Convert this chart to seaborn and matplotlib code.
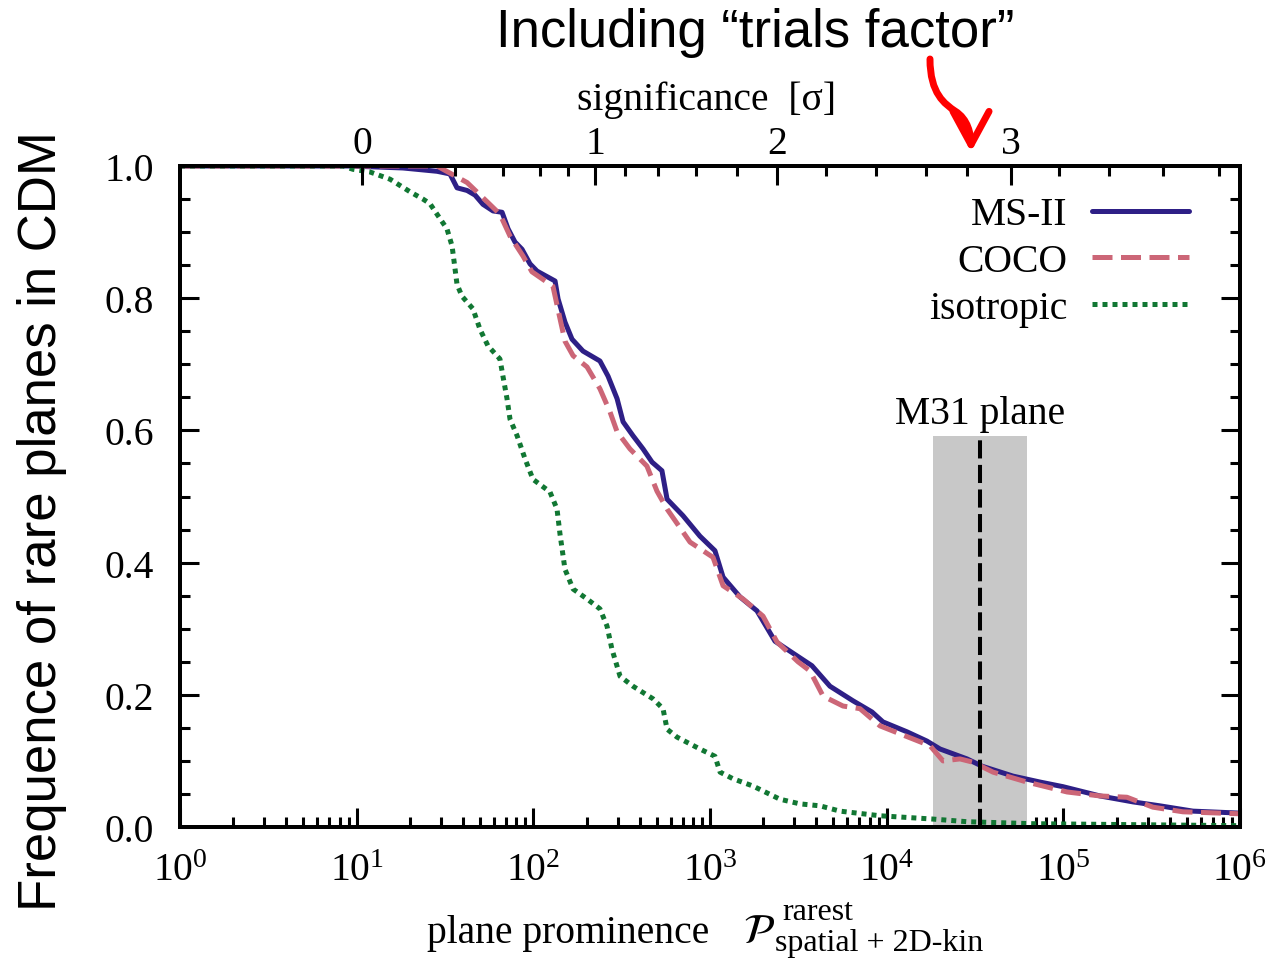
import numpy as np
import pandas as pd
import matplotlib
matplotlib.use("Agg")
import matplotlib.pyplot as plt
import seaborn as sns
from matplotlib.ticker import LogLocator, NullFormatter, FixedLocator, MultipleLocator
from matplotlib.patches import FancyArrowPatch
from matplotlib.path import Path

# ---------------- data ----------------
# x values given as log10 of plane prominence
ms2_log = [0.000, 0.962, 1.262, 1.455, 1.528, 1.568, 1.625, 1.670, 1.715, 1.772, 1.823,
           1.857, 1.896, 1.936, 1.981, 2.021, 2.123, 2.140, 2.179, 2.219, 2.281, 2.377,
           2.423, 2.474, 2.508, 2.564, 2.621, 2.672, 2.728, 2.757, 2.847, 2.943, 3.028,
           3.074, 3.170, 3.266, 3.368, 3.492, 3.577, 3.679, 3.809, 3.917, 3.979, 4.115,
           4.228, 4.302, 4.455, 4.540, 4.715, 4.868, 4.998, 5.207, 5.394, 5.547, 5.734, 6.000]
ms2_frac = [1.000, 1.000, 0.997, 0.992, 0.988, 0.967, 0.963, 0.956, 0.942, 0.932, 0.930,
            0.905, 0.885, 0.874, 0.852, 0.841, 0.826, 0.799, 0.764, 0.738, 0.720, 0.705,
            0.682, 0.648, 0.613, 0.592, 0.572, 0.552, 0.539, 0.496, 0.471, 0.440, 0.418,
            0.378, 0.348, 0.327, 0.281, 0.259, 0.244, 0.213, 0.191, 0.174, 0.159, 0.144,
            0.130, 0.118, 0.103, 0.092, 0.077, 0.068, 0.061, 0.047, 0.038, 0.032, 0.024, 0.021]

coco_log = [0.000, 1.455, 1.557, 1.625, 1.738, 1.811, 1.868, 1.941, 1.992, 2.111, 2.151,
            2.179, 2.225, 2.304, 2.377, 2.434, 2.474, 2.547, 2.643, 2.700, 2.757, 2.887,
            3.017, 3.074, 3.187, 3.300, 3.379, 3.498, 3.566, 3.640, 3.753, 3.849, 3.962,
            4.075, 4.245, 4.319, 4.415, 4.489, 4.602, 4.794, 5.021, 5.207, 5.360, 5.507,
            5.677, 6.000]
coco_frac = [1.000, 1.000, 0.985, 0.975, 0.946, 0.927, 0.894, 0.864, 0.840, 0.818, 0.769,
             0.735, 0.713, 0.696, 0.663, 0.628, 0.598, 0.572, 0.546, 0.508, 0.481, 0.431,
             0.408, 0.365, 0.345, 0.319, 0.280, 0.250, 0.236, 0.198, 0.183, 0.179, 0.153,
             0.141, 0.123, 0.100, 0.103, 0.098, 0.083, 0.068, 0.053, 0.047, 0.045, 0.030,
             0.023, 0.020]

iso_log = [0.000, 0.923, 0.979, 1.075, 1.189, 1.302, 1.375, 1.415, 1.455, 1.511, 1.540,
           1.557, 1.568, 1.596, 1.658, 1.698, 1.743, 1.811, 1.828, 1.851, 1.868, 1.908,
           1.953, 1.998, 2.094, 2.134, 2.151, 2.179, 2.225, 2.304, 2.377, 2.417, 2.445,
           2.491, 2.564, 2.677, 2.734, 2.757, 2.813, 2.943, 3.028, 3.057, 3.130, 3.243,
           3.396, 3.509, 3.623, 3.736, 3.962, 4.262, 4.455, 4.828, 6.000]
iso_frac = [1.000, 1.000, 0.995, 0.991, 0.980, 0.961, 0.950, 0.943, 0.927, 0.905, 0.879,
            0.844, 0.821, 0.803, 0.784, 0.753, 0.728, 0.708, 0.682, 0.648, 0.617, 0.592,
            0.557, 0.526, 0.507, 0.481, 0.443, 0.390, 0.360, 0.345, 0.330, 0.304, 0.269,
            0.228, 0.213, 0.194, 0.179, 0.148, 0.136, 0.118, 0.107, 0.083, 0.073, 0.062,
            0.042, 0.035, 0.032, 0.024, 0.017, 0.012, 0.008, 0.005, 0.002]

series_names = ["MS-II", "COCO", "isotropic"]
series_colors = ["#2e1f86", "#cc6677", "#117733"]

# M31 plane: value and band (log10 prominence), band height (fraction)
m31_log = 4.528
m31_band_log = [4.262, 4.794]
m31_band_top = 0.592

# top axis: significance ticks and their log10 prominence positions
sigma_major = [0, 1, 2, 3]
sigma_major_log = [1.030, 2.349, 3.379, 4.704]
sigma_minor_log = [1.557, 1.828, 2.038, 2.196, 2.519, 2.706, 2.921, 3.153,
                   3.657, 3.940, 4.223, 4.455, 4.975, 5.258, 5.564, 5.881]

# ---------------- styling ----------------
sns.set_style("ticks")
plt.rcParams["font.family"] = ["Liberation Serif", "DejaVu Serif"]
plt.rcParams["mathtext.fontset"] = "stix"
for k in ["text.color", "axes.labelcolor", "xtick.color", "ytick.color", "axes.edgecolor"]:
    plt.rcParams[k] = "black"
plt.rcParams["axes.linewidth"] = 2.8
serif_size = 28.5
small_size = 23
sans = ["Liberation Sans", "DejaVu Sans"]

W, H = 1271, 962
fig = plt.figure(figsize=(W / 100, H / 100), dpi=100)
ax = fig.add_axes([180 / W, 1 - 828 / H, 1060 / W, 661 / H])

frames = []
for name, xs, ys in [("MS-II", ms2_log, ms2_frac), ("COCO", coco_log, coco_frac),
                     ("isotropic", iso_log, iso_frac)]:
    frames.append(pd.DataFrame({"P": 10 ** np.array(xs), "frac": ys, "sample": name}))
df = pd.concat(frames, ignore_index=True)

styles = {"MS-II": "-", "COCO": (0, (4, 1.7)), "isotropic": (0, (1, 1))}

# gray band first
ax.fill_between([10 ** m31_band_log[0], 10 ** m31_band_log[1]], 0, m31_band_top,
                color="#c8c8c8", lw=0, zorder=1)

for name, col in zip(series_names, series_colors):
    sub = df[df["sample"] == name]
    sns.lineplot(data=sub, x="P", y="frac", ax=ax, color=col, lw=3.6,
                 linestyle=styles[name], label=name, estimator=None, sort=False,
                 zorder=3, dash_capstyle="butt")

ax.plot([10 ** m31_log, 10 ** m31_log], [0, m31_band_top], color="black", lw=2.9,
        linestyle=(0, (4.5, 1.6)), zorder=4)
ax.text(10 ** m31_log, 0.611, "M31 plane", ha="center", va="baseline",
        fontsize=serif_size, zorder=5)

ax.set_xscale("log")
ax.set_xlim(1, 1e6)
ax.set_ylim(0, 1)
ax.xaxis.set_major_locator(LogLocator(base=10, numticks=20))
ax.xaxis.set_minor_locator(LogLocator(base=10, subs=np.arange(2, 10), numticks=100))
ax.xaxis.set_minor_formatter(NullFormatter())
ax.yaxis.set_major_locator(MultipleLocator(0.2))
ax.yaxis.set_minor_locator(MultipleLocator(0.05))
ax.set_yticklabels([f"{v:.1f}" for v in ax.get_yticks()])
ax.tick_params(which="both", direction="in", top=False, right=True, width=2.2,
               labelsize=serif_size, colors="black")
ax.tick_params(which="major", length=14)
ax.tick_params(which="minor", length=7)
ax.tick_params(axis="y", which="major", pad=19)
ax.tick_params(axis="x", which="major", pad=18)
for s in ax.spines.values():
    s.set_visible(True)
    s.set_linewidth(2.8)
    s.set_color("black")
ax.set_xlabel("")
ax.set_ylabel("")

# top axis
ax2 = ax.twiny()
ax2.set_xscale("log")
ax2.set_xlim(1, 1e6)
ax2.xaxis.set_major_locator(FixedLocator([10 ** v for v in sigma_major_log]))
ax2.set_xticklabels([str(s) for s in sigma_major])
ax2.xaxis.set_minor_locator(FixedLocator([10 ** v for v in sigma_minor_log]))
ax2.xaxis.set_minor_formatter(NullFormatter())
ax2.tick_params(which="both", direction="in", width=2.2, labelsize=serif_size,
                colors="black")
ax2.tick_params(which="major", length=14, pad=3)
ax2.tick_params(which="minor", length=7)
for s in ax2.spines.values():
    s.set_linewidth(2.8)
    s.set_color("black")

# legend
leg = ax.legend(loc="upper right", frameon=False, markerfirst=False,
                fontsize=serif_size, handlelength=2.45, handletextpad=0.6,
                labelspacing=0.25, borderaxespad=0.9,
                bbox_to_anchor=(1.0, 1.0 + 21 / 661))

# labels
fig.text(707 / W, 1 - 100 / H, "significance  [σ]", ha="center", va="center",
         fontsize=serif_size)
# x label: "plane prominence  P^rarest_{spatial + 2D-kin}"
fig.text(427 / W, 1 - 943 / H, "plane prominence", ha="left", va="baseline",
         fontsize=serif_size)
fig.text(743 / W, 1 - 943 / H, r"$\mathcal{P}$", ha="left", va="baseline",
         fontsize=serif_size + 2)
fig.text(782 / W, 1 - 920 / H, "rarest", ha="left", va="baseline", fontsize=small_size)
fig.text(775 / W, 1 - 951 / H, "spatial + 2D-kin", ha="left", va="baseline",
         fontsize=small_size)
fig.text(42 / W, 1 - 521 / H, "Frequence of rare planes in CDM", rotation=90,
         ha="center", va="center", fontsize=38, family=sans)
fig.text(755 / W, 1 - 33 / H, "Including \u201ctrials factor\u201d", ha="center",
         va="center", fontsize=38, family=sans)

# red curvy arrow
pts = [(930, 60), (930, 95), (945, 105), (955, 112), (968, 120), (971, 135), (971, 153)]
verts = [(x / W, 1 - y / H) for x, y in pts]
codes = [Path.MOVETO] + [Path.CURVE4] * 6
arrow = FancyArrowPatch(path=Path(verts, codes), transform=fig.transFigure,
                        arrowstyle="->,head_length=24,head_width=13", mutation_scale=1,
                        lw=5, color="#ff0000", capstyle="round", joinstyle="round")
fig.add_artist(arrow)

fig.savefig("out.png", dpi=100)
